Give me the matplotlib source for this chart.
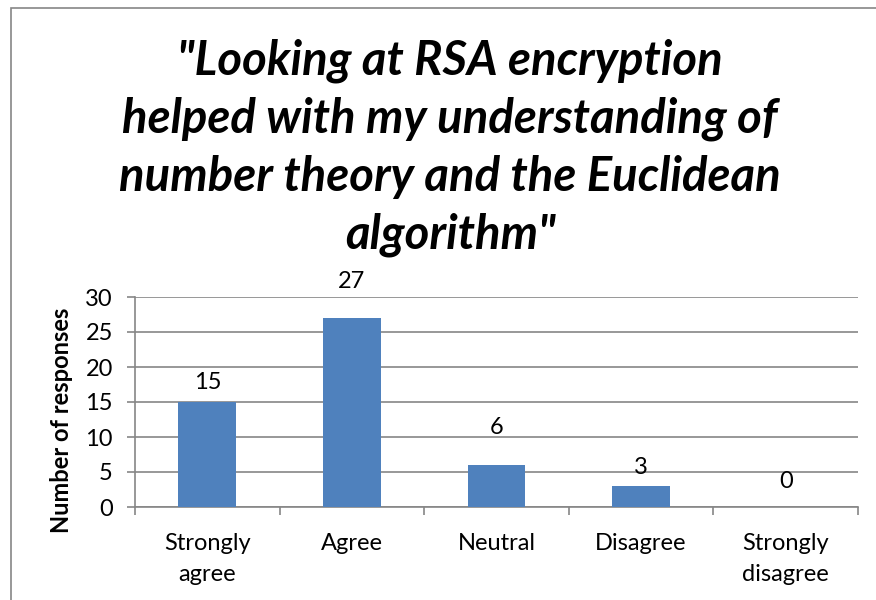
import matplotlib.pyplot as plt
from matplotlib.patches import Rectangle

categories = ["Strongly\nagree", "Agree", "Neutral", "Disagree", "Strongly\ndisagree"]
responses = [15, 27, 6, 3, 0]
# vertical offset of each data label above its bar, in points (labels were nudged by hand)
label_offsets = [14, 26, 27, 13, 18]

title = ('"Looking at RSA encryption\nhelped with my understanding of\n'
         'number theory and the Euclidean\nalgorithm"')

plt.rcParams["font.family"] = ["Lato", "DejaVu Sans"]

fig = plt.figure(figsize=(8.76, 6), dpi=100)
W, H = 876, 600

# chart area border (Excel style), only top and left visible
fig.patches.append(Rectangle((11 / W, -0.1), 1.2, 1 - 8 / H + 0.1, transform=fig.transFigure,
                             fill=False, edgecolor="#868686", linewidth=1.2))

ax = fig.add_axes([135 / W, 1 - 507 / H, (858 - 135) / W, (507 - 297) / H])

x = range(len(categories))
bars = ax.bar(x, responses, width=0.4, color="#4F81BD", zorder=3)

for xi, v, off in zip(x, responses, label_offsets):
    ax.annotate(str(v), (xi, v), xytext=(0, off), textcoords="offset points",
                ha="center", va="center", fontsize=17, color="black", zorder=4)

ax.set_xlim(-0.5, len(categories) - 0.5)
ax.set_ylim(0, 30)
ax.set_yticks(range(0, 31, 5))
ax.yaxis.grid(True, color="#868686", linewidth=1.2, zorder=0)

ax.set_xticks([i - 0.5 for i in range(len(categories) + 1)], minor=False)
ax.set_xticklabels([])
ax.set_xticks(list(x), minor=True)
ax.set_xticklabels(categories, minor=True, fontsize=17, linespacing=1.55)
ax.tick_params(axis="x", which="major", length=6, color="#868686", width=1.2)
ax.tick_params(axis="x", which="minor", length=0, pad=19)
ax.tick_params(axis="y", length=6, color="#868686", width=1.2, labelsize=17, pad=10)

for side in ["top", "right"]:
    ax.spines[side].set_visible(False)
for side in ["left", "bottom"]:
    ax.spines[side].set_color("#868686")
    ax.spines[side].set_linewidth(1.2)

ax.set_ylabel("Number of responses", fontsize=17, fontweight="bold")
ax.yaxis.set_label_coords(-0.086, 0.414)

fig.text(450 / W, 1 - 148 / H, title, ha="center", va="center", fontsize=34,
         fontweight="bold", fontstyle="italic", linespacing=1.38)

fig.savefig("out.png", dpi=100)
